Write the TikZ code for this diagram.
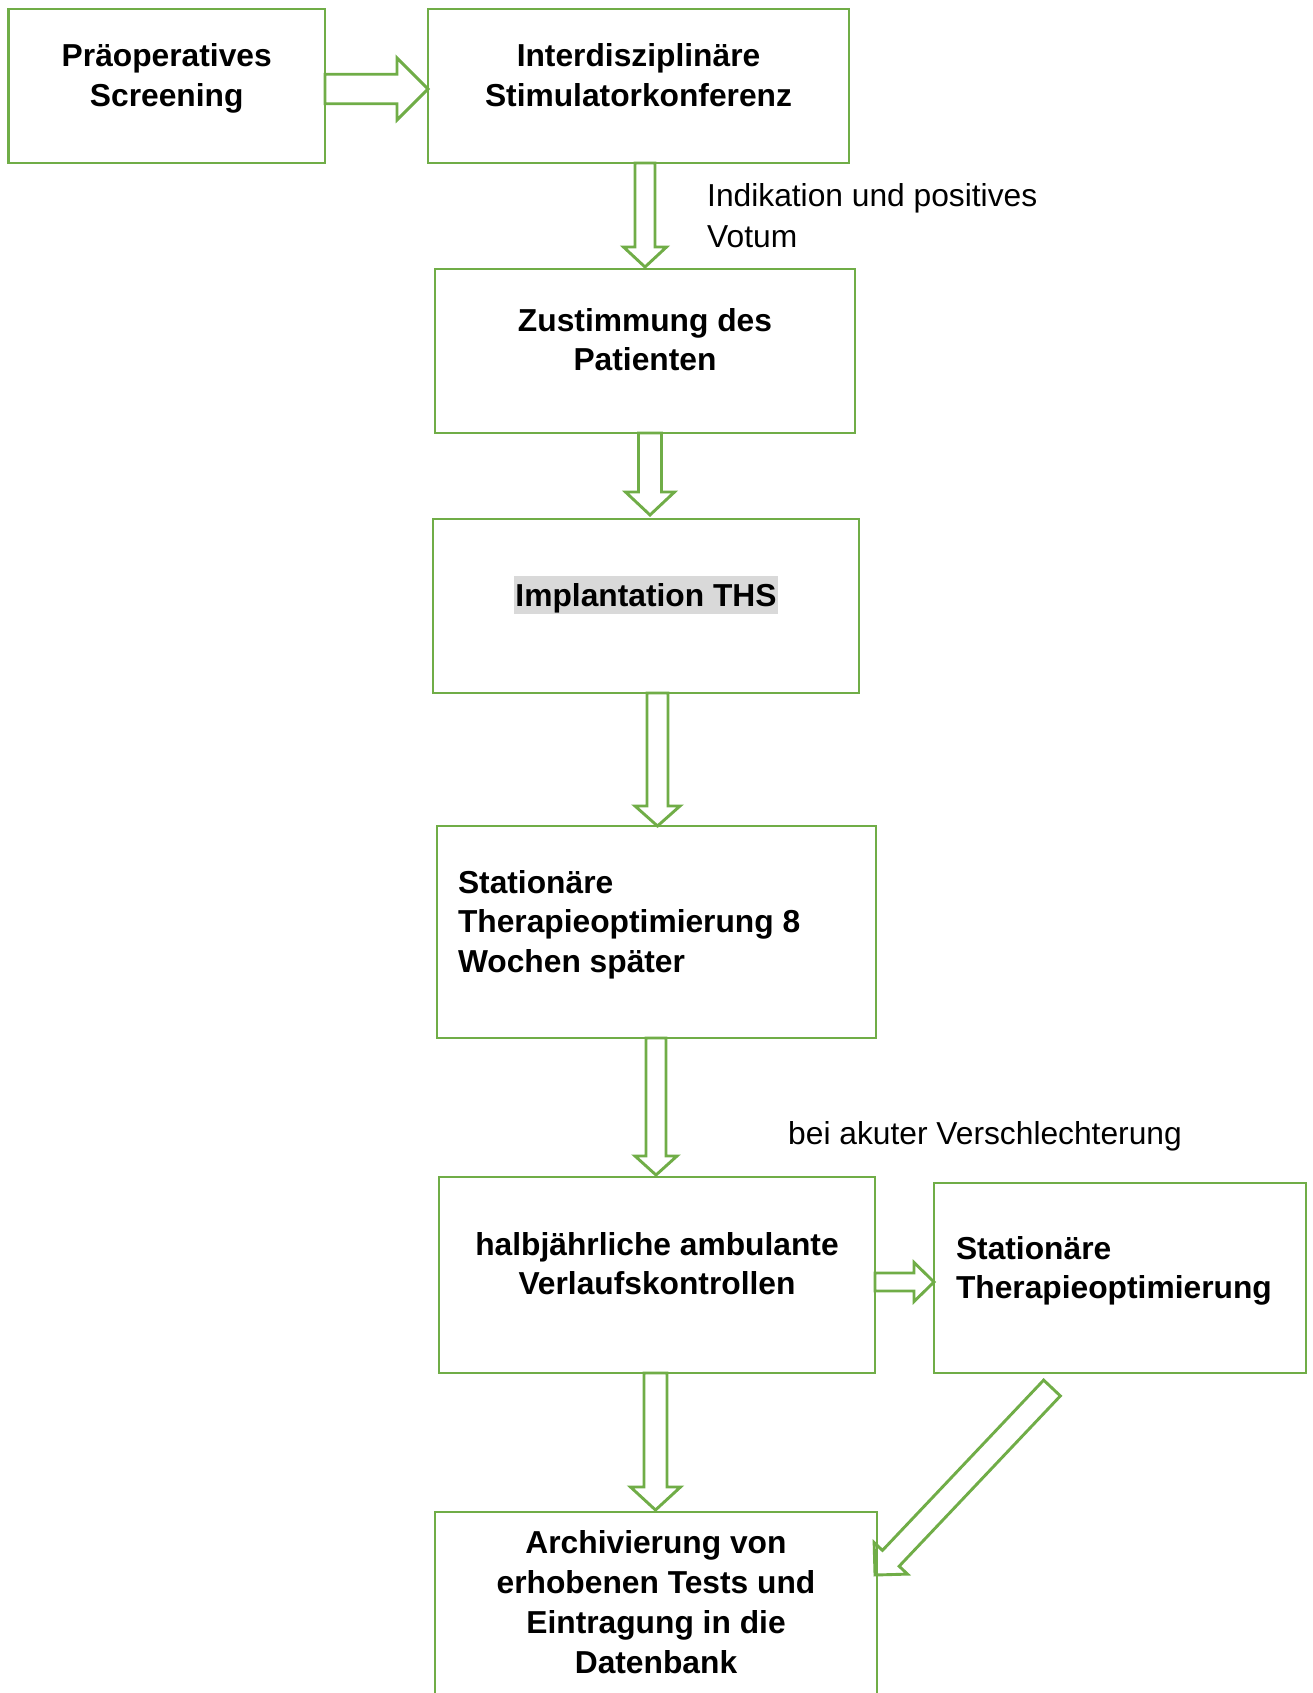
\documentclass[tikz,border=0pt]{standalone}
\usepackage{fontspec}
\setmainfont{Liberation Sans}
\usetikzlibrary{calc}
\definecolor{ogreen}{HTML}{70AD47}
\definecolor{hlgray}{HTML}{D9D9D9}
% centred box text: width, height, first-baseline offset, text
\newcommand{\cbox}[4]{\parbox[c][#2pt][t]{#1pt}{\centering\rule{0pt}{#3pt}#4}}
% left-aligned box text: width, height, first-baseline offset, left indent, text
\newcommand{\lbox}[5]{\parbox[c][#2pt][t]{#1pt}{\raggedright\leftskip=#4pt\rule{0pt}{#3pt}#5}}
% block arrow: start, target, shaft half-width, head half-width, head length
\newcommand{\blockarr}[5]{%
  \path #1 coordinate (bas) #2 coordinate (bat);
  \path ($(bat)!#5pt!(bas)$) coordinate (bab);
  \draw[arrowline] ($(bas)!#3pt!90:(bat)$) -- ($(bab)!#3pt!90:(bat)$)
    -- ($(bab)!#4pt!90:(bat)$) -- (bat) -- ($(bab)!#4pt!-90:(bat)$)
    -- ($(bab)!#3pt!-90:(bat)$) -- ($(bas)!#3pt!-90:(bat)$) -- cycle;}
\begin{document}
\begin{tikzpicture}[x=1pt, y=-1pt,
  flowbox/.style={draw=ogreen, line width=2.9pt, inner sep=0pt, outer sep=0pt,
    font=\bfseries\fontsize{31.75pt}{39.5pt}\selectfont},
  arrowline/.style={draw=ogreen, line width=2.9pt, line join=miter},
  lbl/.style={inner sep=0pt, font=\fontsize{31.75pt}{40.5pt}\selectfont}]
\useasboundingbox (0,0) rectangle (1313,1693);
\fill[white] (0,0) rectangle (1313,1693);
\clip (0,0) rectangle (1313,1693);

\node[flowbox] (b1) at (166.75,86) {\cbox{316.5}{154}{58}{Präoperatives\\Screening}};
\node[flowbox] (b2) at (638.5,86) {\cbox{421}{154}{58}{Interdisziplinäre\\Stimulatorkonferenz}};
\node[flowbox] (b3) at (645,351) {\cbox{420}{164}{62}{Zustimmung des\\Patienten}};
\node[flowbox] (b4) at (646,606) {\cbox{426}{174}{87}{\setlength{\fboxsep}{1.5pt}\colorbox{hlgray}{\rule[-5.5pt]{0pt}{34pt}Implantation THS}}};
\node[flowbox] (b5) at (656.5,932) {\lbox{439}{212}{67}{21}{Stationäre\\Therapieoptimierung 8\\Wochen später}};
\node[flowbox] (b6) at (657,1275) {\cbox{436}{196}{78}{halbjährliche ambulante\\Verlaufskontrollen}};
\node[flowbox] (b7) at (1120,1278) {\lbox{372}{190}{76}{22}{Stationäre\\Therapieoptimierung}};
\node[flowbox, font=\bfseries\fontsize{31.75pt}{40.2pt}\selectfont] (b8) at (656,1627) {\cbox{442}{230}{41}{Archivierung von\\erhobenen Tests und\\Eintragung in die\\Datenbank}};

\node[lbl, anchor=base west] (t1) at (707,207) {\parbox[t]{360pt}{\raggedright Indikation und positives\\Votum}};
\node[lbl, anchor=base west] (t2) at (788,1144) {bei akuter Verschlechterung};

\blockarr{([yshift=-3pt]b1.east)}{([yshift=-3pt]b2.west)}{14.75}{31}{31}
\blockarr{([xshift=6.5pt]b2.south)}{([yshift=2pt]b3.north)}{10}{21.5}{20}
\blockarr{([xshift=5pt]b3.south)}{([xshift=4pt,yshift=4pt]b4.north)}{11.5}{24.5}{23}
\blockarr{([xshift=11.5pt]b4.south)}{([xshift=1pt]b5.north)}{10.5}{22.5}{20}
\blockarr{([xshift=-0.5pt]b5.south)}{([xshift=-1pt,yshift=2pt]b6.north)}{10}{21}{19}
\blockarr{([yshift=-7pt]b6.east)}{([yshift=-4pt]b7.west)}{9}{19.5}{20}
\blockarr{([xshift=-1.5pt]b6.south)}{([xshift=-0.5pt,yshift=2pt]b8.north)}{11.5}{25}{23}
\coordinate (d7) at (1052,1388);
\coordinate (d8) at (875,1575);
\blockarr{(d7)}{(d8)}{11.5}{23}{23}
\end{tikzpicture}
\end{document}
